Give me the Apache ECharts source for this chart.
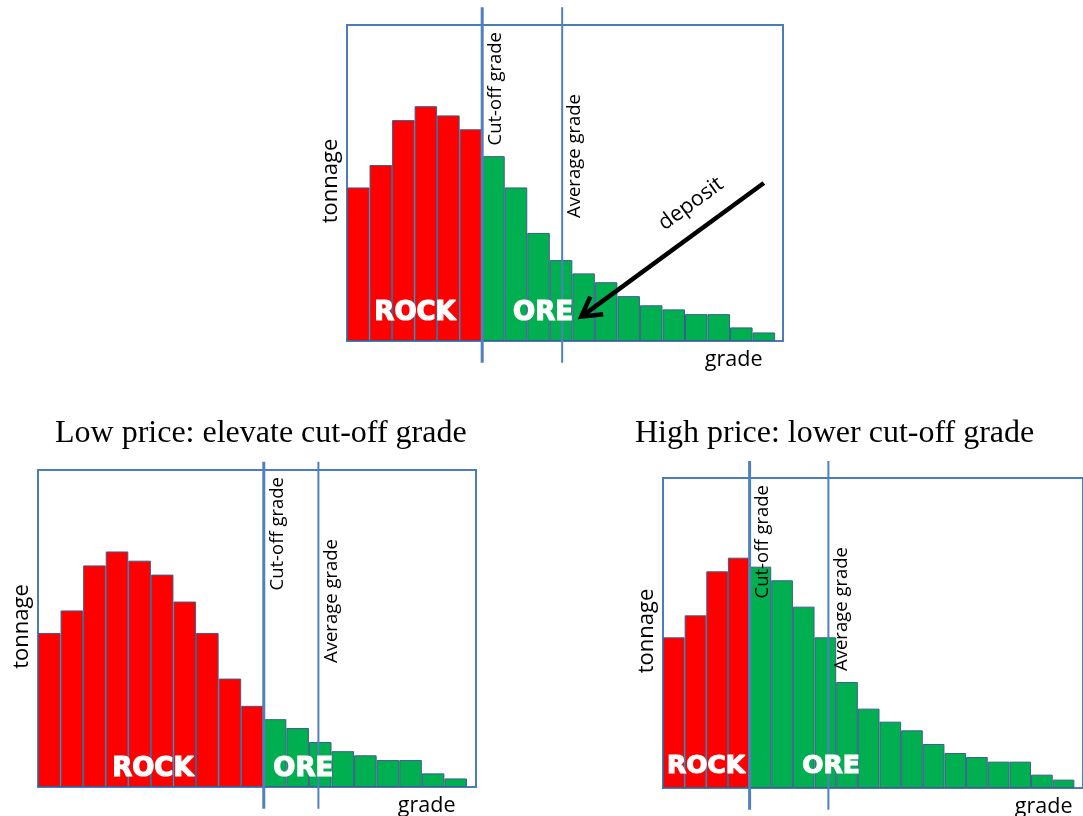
<!DOCTYPE html>
<html><head><meta charset="utf-8">
<script src="https://cdn.jsdelivr.net/npm/echarts@6/dist/echarts.min.js"></script>
<style>html,body{margin:0;padding:0;background:#fff}#c{width:1083px;height:816px}</style>
</head><body><div id="c"></div>
<script>
// ---- data ----
const gradeBins = [0,1,2,3,4,5,6,7,8,9,10,11,12,13,14,15,16,17,18];
const tonnage = [48.6,55.7,69.9,74.3,71.4,67.0,58.5,48.6,34.2,25.6,21.4,18.6,14.2,11.3,10.0,8.5,8.5,4.3,2.7];
const cutoffBin = [6, 10, 4];            // first ORE bin in each panel
const averageGrade = [9.05, 11.92, 7.14]; // average grade of ore, in bin units
const panelTitles = ['', 'Low price: elevate cut-off grade', 'High price: lower cut-off grade'];
const axisNames = { y: 'tonnage', x: 'grade' };
const lineNames = { cut: 'Cut-off grade', avg: 'Average grade' };
const zoneNames = { rock: 'ROCK', ore: 'ORE', arrow: 'deposit' };

// ---- layout (pixels / placement) ----
const panels = [
  {left:347, top:25,  width:436, height:316, xMax:18.85, extTop:17.7, extBot:21.7, rockX:2.52, oreX:8.2,  zoneY:18.3, zoneFont:26, titleX:0,   titleY:0},
  {left:38,  top:470, width:438, height:317, xMax:18.9,  extTop:8.3,  extBot:21.7, rockX:4.59, oreX:11.25, zoneY:8.3, zoneFont:26, titleX:55,  titleY:434},
  {left:663, top:478, width:430, height:310, xMax:18.9,  extTop:17,   extBot:21.7, rockX:1.49, oreX:7.26, zoneY:12.3, zoneFont:25, titleX:635, titleY:434}
];
const arrowFrom = [18.0, 50.0], arrowTo = [9.9, 7.7], depositAt = [14.77, 43.4];

const CAL = '"Open Sans"';
const RED = '#ff0000', GREEN = '#00b050', EDGE = '#3b5e8c', FRAME = '#4a7ebb', LINE = '#4f81bd';

const series = [];
panels.forEach((p, i) => {
  series.push({
    type:'bar', xAxisIndex:i, yAxisIndex:i, silent:true, barWidth:'100%',
    data: gradeBins.map((b, k) => [b, tonnage[k]]),
    itemStyle:{ color: (d) => d.data[0] < cutoffBin[i] ? RED : GREEN, borderColor:EDGE, borderWidth:1 }
  });
  const lo = -p.extBot / p.height * 100, hi = 100 + p.extTop / p.height * 100;
  const c = cutoffBin[i] - 0.5;
  series.push({type:'line', xAxisIndex:i, yAxisIndex:i, silent:true, clip:false, symbol:'none', z:5,
    data:[[c, lo],[c, hi]], lineStyle:{color:LINE, width:3}});
  series.push({type:'line', xAxisIndex:i, yAxisIndex:i, silent:true, clip:false, symbol:'none', z:5,
    data:[[averageGrade[i], lo],[averageGrade[i], hi]], lineStyle:{color:LINE, width:2}});
});

const option = {
  animation:false,
  backgroundColor:'#fff',
  grid: panels.map(p => ({left:p.left, top:p.top, width:p.width, height:p.height, show:true, borderColor:FRAME, borderWidth:2, backgroundColor:'transparent'})),
  xAxis: panels.map((p, i) => ({type:'value', gridIndex:i, min:-0.5, max:p.xMax, show:false})),
  yAxis: panels.map((p, i) => ({type:'value', gridIndex:i, min:0, max:100, show:false})),
  series
};

const chart = echarts.init(document.getElementById('c'), null, {renderer:'canvas', width:1083, height:816});
chart.setOption(option);

const gr = [];
panels.forEach((p, i) => {
  const px = (x, y) => chart.convertToPixel({gridIndex:i}, [x, y]);
  const cutX = px(cutoffBin[i] - 0.5, 0)[0];
  const avgX = px(averageGrade[i], 0)[0];
  const right = p.left + p.width, bottom = p.top + p.height;
  gr.push({type:'text', x:cutX + 4, y:p.top + 7, rotation:Math.PI/2, z:10,
    style:{text:lineNames.cut, font:'18.5px ' + CAL, fill:'#000', align:'right', verticalAlign:'top'}});
  gr.push({type:'text', x:avgX + 3.5, y:p.top + 69, rotation:Math.PI/2, z:10,
    style:{text:lineNames.avg, font:'18.5px ' + CAL, fill:'#000', align:'right', verticalAlign:'top'}});
  gr.push({type:'text', x:p.left - 16, y:p.top + p.height/2 - 2, rotation:Math.PI/2, z:10,
    style:{text:axisNames.y, font:'22px ' + CAL, fill:'#000', align:'center', verticalAlign:'middle'}});
  gr.push({type:'text', x:right - 20.5, y:bottom + 26.5 - 7.5, z:10,
    style:{text:axisNames.x, font:'21.5px ' + CAL, fill:'#000', align:'right', verticalAlign:'middle'}});
  const zy = bottom - p.zoneY - 0.36 * p.zoneFont;
  const zoneStyle = {font:'bold ' + p.zoneFont + 'px "DejaVu Sans"', fill:'#fff', stroke:'#fff', lineWidth:1.2, align:'center', verticalAlign:'middle'};
  gr.push({type:'text', x:px(p.rockX, 0)[0], y:zy, z:10, style:Object.assign({text:zoneNames.rock}, zoneStyle)});
  gr.push({type:'text', x:px(p.oreX, 0)[0], y:zy, z:10, style:Object.assign({text:zoneNames.ore}, zoneStyle)});
  if (panelTitles[i]) {
    gr.push({type:'text', x:p.titleX, y:p.titleY, z:10,
      style:{text:panelTitles[i], font:'32px "Liberation Serif"', fill:'#000', align:'left', verticalAlign:'middle'}});
  }
});

// deposit arrow (top panel)
(function(){
  const a = chart.convertToPixel({gridIndex:0}, arrowFrom);
  const b = chart.convertToPixel({gridIndex:0}, arrowTo);
  const ang = Math.atan2(a[1] - b[1], a[0] - b[0]);
  const L = 22, s = 0.52;
  const h1 = [b[0] + L*Math.cos(ang + s), b[1] + L*Math.sin(ang + s)];
  const h2 = [b[0] + L*Math.cos(ang - s), b[1] + L*Math.sin(ang - s)];
  const e = [b[0] + 3*Math.cos(ang), b[1] + 3*Math.sin(ang)];
  gr.push({type:'line', z:11, shape:{x1:a[0], y1:a[1], x2:e[0], y2:e[1]}, style:{stroke:'#000', lineWidth:4.5}});
  gr.push({type:'polyline', z:11, shape:{points:[h1, b, h2]}, style:{stroke:'#000', lineWidth:4.5, fill:null, lineJoin:'miter'}});
  const d = chart.convertToPixel({gridIndex:0}, depositAt);
  gr.push({type:'text', x:d[0], y:d[1], rotation:-ang, z:11,
    style:{text:zoneNames.arrow, font:'21.5px ' + CAL, fill:'#000', align:'center', verticalAlign:'middle'}});
})();

chart.setOption({graphic: gr});
</script>
</body></html>
